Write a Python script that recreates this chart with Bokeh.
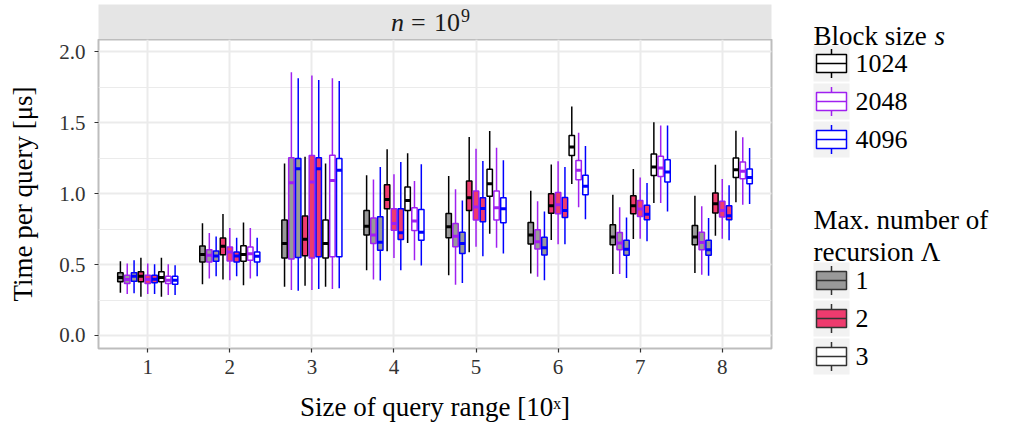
from bokeh.plotting import figure
from bokeh.models import (ColumnDataSource, FactorRange, Range1d, SingleIntervalTicker,
                          PrintfTickFormatter, Label)
from bokeh.transform import dodge
from bokeh.layouts import row, column
from bokeh.embed import file_html
from bokeh.resources import INLINE
from bokeh.core.properties import value

# ---------------- data ----------------
CATEGORIES = ["1", "2", "3", "4", "5", "6", "7", "8"]
BLOCK_SIZES = ["1024", "2048", "4096"]
RECURSIONS = ["1", "2", "3"]

# five-number summaries (whisker low, Q1, median, Q3, whisker high) per query-range size
L1_S1024 = dict(lo=[0.301, 0.362, 0.344, 0.460, 0.425, 0.437, 0.433, 0.440],
                q1=[0.379, 0.519, 0.546, 0.708, 0.689, 0.645, 0.640, 0.640],
                med=[0.409, 0.572, 0.649, 0.771, 0.767, 0.709, 0.694, 0.694],
                q3=[0.442, 0.631, 0.815, 0.882, 0.861, 0.797, 0.781, 0.776],
                hi=[0.523, 0.792, 1.213, 1.130, 1.125, 1.021, 0.993, 0.986])
L1_S2048 = dict(lo=[0.292, 0.402, 0.321, 0.394, 0.358, 0.414, 0.433, 0.428],
                q1=[0.367, 0.519, 0.539, 0.649, 0.625, 0.610, 0.605, 0.605],
                med=[0.395, 0.565, 1.077, 0.708, 0.700, 0.662, 0.652, 0.656],
                q3=[0.425, 0.605, 1.253, 0.828, 0.790, 0.745, 0.727, 0.729],
                hi=[0.507, 0.722, 1.857, 1.101, 1.031, 0.946, 0.904, 0.911])
L1_S4096 = dict(lo=[0.297, 0.418, 0.316, 0.387, 0.370, 0.390, 0.405, 0.421],
                q1=[0.383, 0.523, 0.550, 0.601, 0.578, 0.567, 0.565, 0.565],
                med=[0.418, 0.561, 1.176, 0.658, 0.649, 0.619, 0.609, 0.605],
                q3=[0.442, 0.596, 1.248, 0.837, 0.729, 0.693, 0.671, 0.671],
                hi=[0.530, 0.699, 1.815, 1.189, 0.953, 0.875, 0.833, 0.828])
L2_S1024 = dict(lo=[0.273, 0.395, 0.351, 0.594, 0.587, 0.674, 0.680, 0.704],
                q1=[0.379, 0.570, 0.562, 0.894, 0.882, 0.863, 0.859, 0.864],
                med=[0.418, 0.629, 0.679, 0.960, 0.972, 0.915, 0.915, 0.929],
                q3=[0.449, 0.687, 0.843, 1.064, 1.090, 1.000, 0.986, 1.005],
                hi=[0.549, 0.857, 1.260, 1.314, 1.401, 1.206, 1.174, 1.205])
L2_S2048 = dict(lo=[0.292, 0.390, 0.321, 0.547, 0.625, 0.643, 0.682, 0.682],
                q1=[0.367, 0.526, 0.546, 0.743, 0.814, 0.858, 0.840, 0.835],
                med=[0.395, 0.589, 1.082, 0.790, 0.906, 0.922, 0.892, 0.882],
                q3=[0.425, 0.624, 1.269, 0.894, 1.019, 1.009, 0.953, 0.946],
                hi=[0.507, 0.759, 1.834, 1.137, 1.318, 1.229, 1.115, 1.104])
L2_S4096 = dict(lo=[0.292, 0.418, 0.328, 0.460, 0.559, 0.643, 0.664, 0.671],
                q1=[0.371, 0.519, 0.555, 0.677, 0.802, 0.832, 0.816, 0.816],
                med=[0.397, 0.561, 1.176, 0.724, 0.896, 0.882, 0.856, 0.845],
                q3=[0.425, 0.589, 1.253, 0.894, 0.972, 0.974, 0.918, 0.915],
                hi=[0.502, 0.689, 1.803, 1.224, 1.231, 1.189, 1.075, 1.059])
L3_S1024 = dict(lo=[0.273, 0.355, 0.344, 0.653, 0.717, 1.069, 0.934, 0.939],
                q1=[0.379, 0.523, 0.546, 0.882, 0.983, 1.270, 1.129, 1.115],
                med=[0.409, 0.572, 0.649, 0.953, 1.071, 1.329, 1.188, 1.169],
                q3=[0.449, 0.633, 0.815, 1.047, 1.172, 1.411, 1.280, 1.252],
                hi=[0.549, 0.797, 1.213, 1.285, 1.443, 1.615, 1.504, 1.445])
L3_S2048 = dict(lo=[0.285, 0.402, 0.328, 0.531, 0.618, 0.905, 0.934, 0.922],
                q1=[0.367, 0.530, 0.555, 0.741, 0.814, 1.099, 1.122, 1.106],
                med=[0.390, 0.577, 1.094, 0.807, 0.901, 1.165, 1.181, 1.158],
                q3=[0.418, 0.624, 1.272, 0.901, 1.019, 1.234, 1.264, 1.224],
                hi=[0.502, 0.759, 1.815, 1.090, 1.325, 1.430, 1.482, 1.398])
L3_S4096 = dict(lo=[0.285, 0.418, 0.333, 0.493, 0.578, 0.820, 0.875, 0.927],
                q1=[0.362, 0.519, 0.555, 0.672, 0.795, 0.993, 1.082, 1.071],
                med=[0.390, 0.558, 1.166, 0.729, 0.894, 1.052, 1.153, 1.115],
                q3=[0.418, 0.589, 1.248, 0.889, 0.972, 1.130, 1.240, 1.174],
                hi=[0.495, 0.689, 1.796, 1.208, 1.236, 1.336, 1.482, 1.322])

SERIES = [("1", "1024", L1_S1024), ("1", "2048", L1_S2048), ("1", "4096", L1_S4096),
          ("2", "1024", L2_S1024), ("2", "2048", L2_S2048), ("2", "4096", L2_S4096),
          ("3", "1024", L3_S1024), ("3", "2048", L3_S2048), ("3", "4096", L3_S4096)]

# ---------------- styles ----------------
FONT = "Liberation Serif"
FILL = {"1": "#999999", "2": "#EE3B6E", "3": "#FFFFFF"}
LINE = {"1024": "#000000", "2048": "#A020F0", "4096": "#0000FF"}
GRID = "#EBEBEB"
DODGE = 0.0833
BOX_W = 0.066
TOTAL_H = 431

# ---------------- main panel ----------------
xr = FactorRange(factors=CATEGORIES, range_padding=0.1, range_padding_units="absolute")
main = figure(x_range=xr, y_range=Range1d(-0.092, 2.088),
              frame_width=673, frame_height=309,
              min_border_left=98, min_border_right=30, min_border_top=0, min_border_bottom=83,
              output_backend="svg", toolbar_location=None,
              background_fill_color="white", border_fill_color="white",
              outline_line_color="#BDBDBD", outline_line_width=2)

for i, (rec, blk, d) in enumerate(SERIES):
    off = (i - 4) * DODGE
    src = ColumnDataSource(dict(cat=CATEGORIES, **d))
    main.segment(x0=dodge("cat", off, range=xr), y0="lo", x1=dodge("cat", off, range=xr), y1="hi",
                 source=src, line_color=LINE[blk], line_width=1.5)
    main.vbar(x=dodge("cat", off, range=xr), width=BOX_W, top="q3", bottom="q1", source=src,
              fill_color=FILL[rec], line_color=LINE[blk], line_width=1.5)
    main.segment(x0=dodge("cat", off - BOX_W / 2, range=xr), y0="med",
                 x1=dodge("cat", off + BOX_W / 2, range=xr), y1="med",
                 source=src, line_color=LINE[blk], line_width=3)

main.yaxis.ticker = SingleIntervalTicker(interval=0.5, num_minor_ticks=2)
main.yaxis.formatter = PrintfTickFormatter(format="%.1f")
main.xgrid.grid_line_color = GRID
main.xgrid.grid_line_width = 2
main.ygrid.grid_line_color = GRID
main.ygrid.grid_line_width = 2
main.ygrid.minor_grid_line_color = GRID
main.ygrid.minor_grid_line_width = 1.2

for ax in (main.xaxis[0], main.yaxis[0]):
    ax.axis_line_color = None
    ax.major_tick_line_color = "#333333"
    ax.major_tick_line_width = 1.2
    ax.major_tick_in = 0
    ax.major_tick_out = 4
    ax.minor_tick_line_color = None
    ax.major_label_text_font = FONT
    ax.major_label_text_font_size = "21px"
    ax.major_label_text_color = "#333333"
    ax.axis_label_text_font = FONT
    ax.axis_label_text_font_size = "27px"
    ax.axis_label_text_font_style = "normal"
    ax.axis_label_text_color = "#000000"

main.xaxis.axis_label = "Size of query range [10ˣ]"
main.xaxis.major_label_standoff = 7
main.xaxis.axis_label_standoff = 15
main.yaxis.axis_label = "Time per query [μs]"
main.yaxis.major_label_standoff = 9
main.yaxis.axis_label_standoff = 18

# ---------------- facet strip ----------------
strip = figure(x_range=Range1d(0, 1), y_range=Range1d(0, 1), frame_width=673, frame_height=35,
               min_border_left=98, min_border_right=30, min_border_top=4, min_border_bottom=0,
               x_axis_type=None, y_axis_type=None, output_backend="svg", toolbar_location=None,
               background_fill_color="#E5E5E5", border_fill_color="white", outline_line_color=None)
strip.grid.visible = False
STRIP_TXT = dict(text_font=FONT, text_baseline="middle", text_align="left", text_color="#1A1A1A")
strip.add_layout(Label(x=0.5, y=0.5, x_offset=-44, text="n", text_font_size="26px",
                       text_font_style="italic", **STRIP_TXT))
strip.add_layout(Label(x=0.5, y=0.5, x_offset=-24, text="=", text_font_size="26px", **STRIP_TXT))
strip.add_layout(Label(x=0.5, y=0.5, x_offset=-1, text="10", text_font_size="26px", **STRIP_TXT))
strip.add_layout(Label(x=0.5, y=0.5, x_offset=26, y_offset=7, text="9", text_font_size="18px",
                       **STRIP_TXT))

# ---------------- legends ----------------
LW, LH = 210, TOTAL_H
leg = figure(x_range=Range1d(0, LW), y_range=Range1d(LH, 0), frame_width=LW, frame_height=LH,
             min_border_left=0, min_border_right=0, min_border_top=0, min_border_bottom=0,
             x_axis_type=None, y_axis_type=None, output_backend="svg", toolbar_location=None,
             background_fill_color="white", border_fill_color="white", outline_line_color=None)
leg.grid.visible = False

KX0, KS, PITCH = 12, 36, 38
BX0, BX1 = 15, 45


def draw_keys(top0, labels, fills, lines):
    n = len(labels)
    tops = [top0 + PITCH * k for k in range(n)]
    cy = [t + KS / 2 for t in tops]
    leg.quad(left=[KX0] * n, right=[KX0 + KS] * n, top=tops, bottom=[t + KS for t in tops],
             fill_color="#F2F2F2", line_color=None)
    xm = (BX0 + BX1) / 2
    leg.segment(x0=[xm] * n, y0=[c - 14.5 for c in cy], x1=[xm] * n, y1=[c + 14.5 for c in cy],
                line_color=lines, line_width=1.5)
    leg.quad(left=[BX0] * n, right=[BX1] * n, top=[c - 9 for c in cy], bottom=[c + 9 for c in cy],
             fill_color=fills, line_color=lines, line_width=1.5)
    leg.segment(x0=[BX0] * n, y0=cy, x1=[BX1] * n, y1=cy, line_color=lines, line_width=1.5)
    leg.text(x=[54] * n, y=cy, text=labels, text_font=value(FONT), text_font_size="26px",
             text_baseline="middle", text_align="left", text_color="#000000")


LEG_TITLE = dict(text_font=FONT, text_font_size="27px", text_baseline="alphabetic",
                 text_color="#000000")
leg.add_layout(Label(x=KX0, y=35, text="Block size", **LEG_TITLE))
leg.add_layout(Label(x=KX0 + 121, y=35, text="s", text_font_style="italic", **LEG_TITLE))
draw_keys(45, BLOCK_SIZES, ["#FFFFFF"] * 3, [LINE[b] for b in BLOCK_SIZES])

leg.add_layout(Label(x=KX0, y=219, text="Max. number of", **LEG_TITLE))
leg.add_layout(Label(x=KX0, y=251, text="recursion Λ", **LEG_TITLE))
draw_keys(262, RECURSIONS, [FILL[r] for r in RECURSIONS], ["#333333"] * 3)

layout = row(column(strip, main), leg)
open("out.html", "w").write(file_html(layout, INLINE))
